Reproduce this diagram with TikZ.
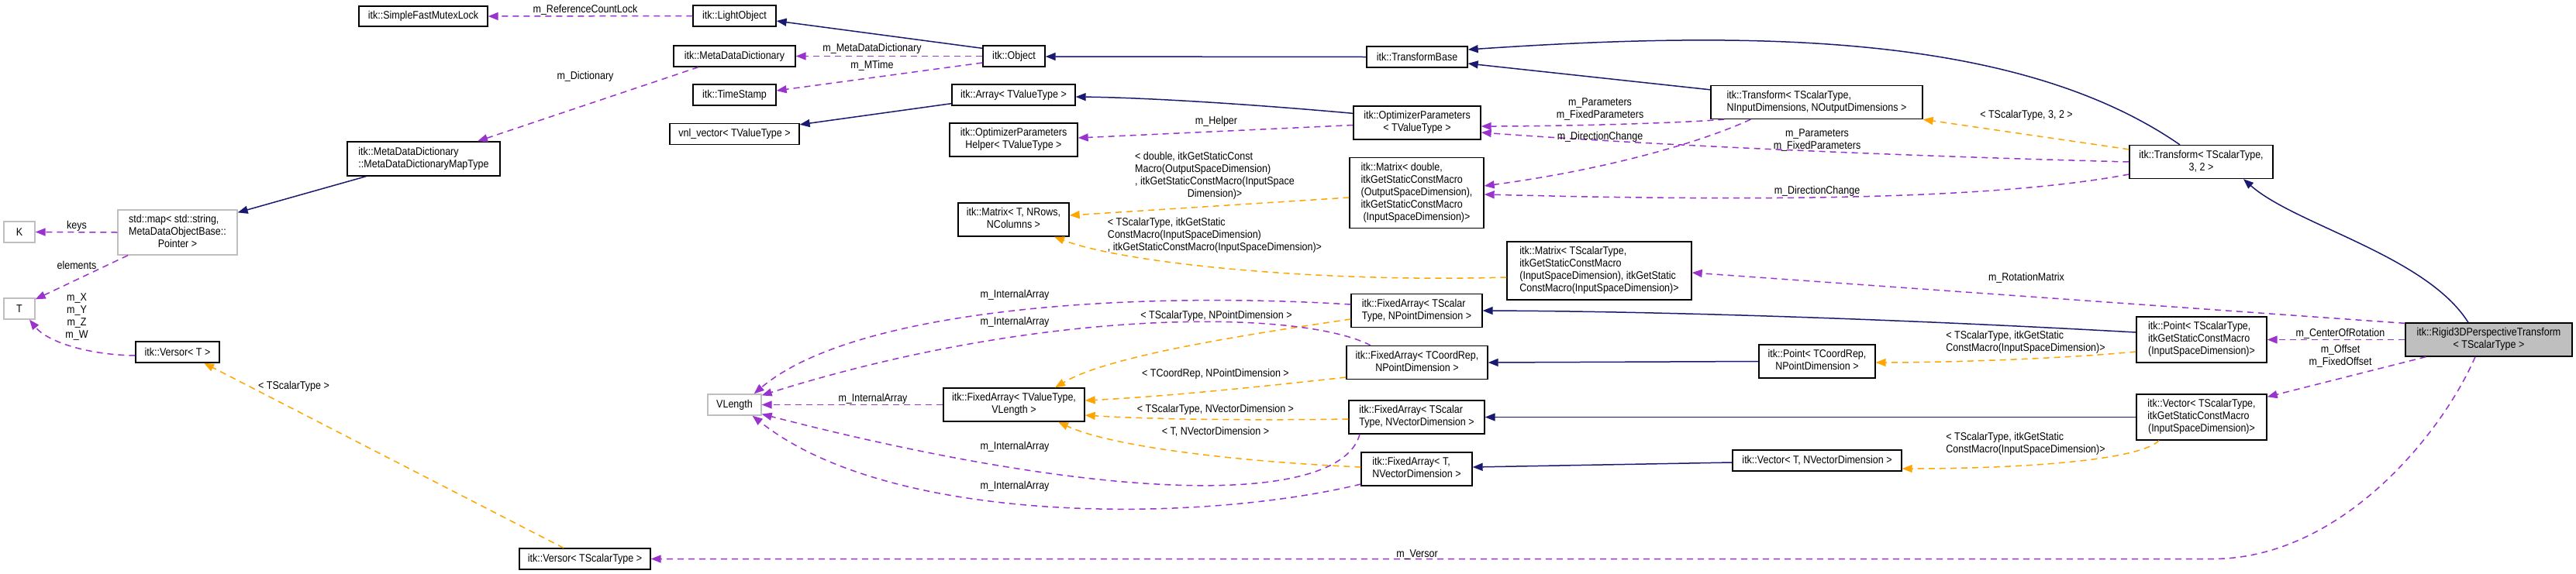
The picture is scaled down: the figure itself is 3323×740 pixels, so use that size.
\documentclass[tikz,border=0pt]{standalone}
\usepackage{fontspec}
\setmainfont{Liberation Sans}[FakeStretch=0.88]
\usetikzlibrary{arrows.meta}
\definecolor{navy}{RGB}{25,25,112}
\definecolor{purp}{RGB}{154,50,205}
\definecolor{orng}{RGB}{255,165,0}
\definecolor{gbd}{RGB}{191,191,191}
\newcommand{\tbl}[1]{\begin{tabular}{@{}l@{}}#1\end{tabular}}
\newcommand{\lastln}[1]{\multicolumn{1}{@{}c@{}}{#1}}
\begin{document}
\begin{tikzpicture}[x=1pt,y=-1pt,
  font=\fontsize{14.2}{16}\selectfont,
  box/.style={draw=black, line width=1.3pt, fill=white, inner sep=0pt, align=center},
  gbox/.style={box, draw=gbd},
  hbox/.style={box, fill=gbd},
  lbl/.style={inner sep=0pt, align=center},
  tip/.style={-{Triangle[length=13pt,width=10pt]}},
  inh/.style={tip, draw=navy, line width=1.5pt},
  tmpl/.style={tip, draw=orng, line width=1.5pt, dash pattern=on 8pt off 6pt},
  use/.style={tip, draw=purp, line width=1.5pt, dash pattern=on 8pt off 6pt}]
\useasboundingbox (0,0) rectangle (3323,740);

% ---------- nodes ----------
\node[box, minimum width=166pt, minimum height=26pt] (mutex) at (546,21) {itk::SimpleFastMutexLock};
\node[box, minimum width=107pt, minimum height=27pt] (light) at (947.5,20.5) {itk::LightObject};
\node[box, minimum width=157pt, minimum height=27pt] (mdd) at (947.5,72.5) {itk::MetaDataDictionary};
\node[box, minimum width=80pt, minimum height=27pt] (obj) at (1308,72.5) {itk::Object};
\node[box, minimum width=107pt, minimum height=27pt] (ts) at (947.5,122.5) {itk::TimeStamp};
\node[box, minimum width=159pt, minimum height=27pt] (arr) at (1307.5,122.5) {itk::Array< TValueType >};
\node[box, minimum width=167pt, minimum height=27pt] (vnl) at (947.5,173) {vnl\_vector< TValueType >};
\node[box, minimum width=165pt, minimum height=43pt] (opthelp) at (1307.5,180.5) {\tbl{itk::OptimizerParameters\\\lastln{Helper< TValueType >}}};
\node[box, minimum width=197pt, minimum height=44pt] (maptype) at (546.5,205) {\tbl{itk::MetaDataDictionary\\\lastln{::MetaDataDictionaryMapType}}};
\node[gbox, minimum width=154pt, minimum height=58pt] (stdmap) at (229,300) {\tbl{std::map< std::string,\\MetaDataObjectBase::\\\lastln{Pointer >}}};
\node[gbox, minimum width=40pt, minimum height=27pt] (K) at (25,299.5) {K};
\node[gbox, minimum width=40pt, minimum height=27pt] (T) at (25,398.5) {T};
\node[box, minimum width=108pt, minimum height=27pt] (versorT) at (229,454.5) {itk::Versor< T >};
\node[gbox, minimum width=69pt, minimum height=27pt] (vlength) at (947.5,522.5) {VLength};
\node[box, minimum width=169pt, minimum height=27pt] (versorS) at (754.5,721.5) {itk::Versor< TScalarType >};
\node[box, minimum width=130pt, minimum height=27pt] (tbase) at (1828,73.5) {itk::TransformBase};
\node[box, minimum width=164pt, minimum height=43pt] (optp) at (1828,158.5) {\tbl{itk::OptimizerParameters\\\lastln{< TValueType >}}};
\node[box, minimum width=273pt, minimum height=43pt] (transN) at (2343.5,132) {\tbl{itk::Transform< TScalarType,\\\lastln{NInputDimensions, NOutputDimensions >}}};
\node[box, minimum width=173pt, minimum height=91pt] (matD) at (1827.5,249) {\tbl{itk::Matrix< double,\\itkGetStaticConstMacro\\(OutputSpaceDimension),\\itkGetStaticConstMacro\\\lastln{(InputSpaceDimension)>}}};
\node[box, minimum width=143pt, minimum height=43pt] (matT) at (1307.5,283.5) {\tbl{itk::Matrix< T, NRows,\\\lastln{NColumns >}}};
\node[box, minimum width=238pt, minimum height=75pt] (matS) at (2063,349.5) {\tbl{itk::Matrix< TScalarType,\\itkGetStaticConstMacro\\(InputSpaceDimension), itkGetStatic\\\lastln{ConstMacro(InputSpaceDimension)>}}};
\node[box, minimum width=169pt, minimum height=43pt] (faSP) at (1827.5,401) {\tbl{itk::FixedArray< TScalar\\\lastln{Type, NPointDimension >}}};
\node[box, minimum width=182pt, minimum height=43pt] (faCP) at (1828,468) {\tbl{itk::FixedArray< TCoordRep,\\\lastln{NPointDimension >}}};
\node[box, minimum width=182pt, minimum height=43pt] (faV) at (1308,522.5) {\tbl{itk::FixedArray< TValueType,\\\lastln{VLength >}}};
\node[box, minimum width=175pt, minimum height=43pt] (faSV) at (1827.5,538.5) {\tbl{itk::FixedArray< TScalar\\\lastln{Type, NVectorDimension >}}};
\node[box, minimum width=143pt, minimum height=43pt] (faTV) at (1827.5,605.5) {\tbl{itk::FixedArray< T,\\\lastln{NVectorDimension >}}};
\node[box, minimum width=185pt, minimum height=43pt] (trans32) at (2839.5,209) {\tbl{itk::Transform< TScalarType,\\\lastln{3, 2 >}}};
\node[box, minimum width=168pt, minimum height=59pt] (ptS) at (2840,438.5) {\tbl{itk::Point< TScalarType,\\itkGetStaticConstMacro\\\lastln{(InputSpaceDimension)>}}};
\node[box, minimum width=150pt, minimum height=43pt] (ptC) at (2344,466.5) {\tbl{itk::Point< TCoordRep,\\\lastln{NPointDimension >}}};
\node[box, minimum width=168pt, minimum height=59pt] (vecS) at (2840,538.5) {\tbl{itk::Vector< TScalarType,\\itkGetStaticConstMacro\\\lastln{(InputSpaceDimension)>}}};
\node[box, minimum width=218pt, minimum height=27pt] (vecT) at (2344,594.5) {itk::Vector< T, NVectorDimension >};
\node[hbox, minimum width=215pt, minimum height=43pt] (rigid) at (3210.5,438.5) {\tbl{itk::Rigid3DPerspectiveTransform\\\lastln{< TScalarType >}}};

% ---------- inheritance ----------
\draw[inh] ([yshift=-4pt]obj.north west) -- ([yshift=-6.5pt]light.east);
\draw[inh] (tbase.west) -- ([yshift=-0.5pt]obj.east);
\draw[inh] ([yshift=-6pt]transN.north west) -- ([yshift=-8.5pt]tbase.east);
\draw[inh] ([xshift=-27.5pt]trans32.north) .. controls (2600,40) and (2250,40) .. ([yshift=9.5pt]tbase.east);
\draw[inh] ([xshift=-26.5pt]rigid.north) .. controls (3130,330) and (2960,290) .. ([xshift=54.5pt]trans32.south);
\draw[inh] ([yshift=-10pt]optp.north west) .. controls (1620,135) and (1480,126) .. ([yshift=-2.5pt]arr.east);
\draw[inh] ([yshift=3pt]arr.south west) -- ([yshift=-2pt]vnl.north east);
\draw[inh] ([xshift=25pt]maptype.south west) -- ([yshift=-4pt]stdmap.north east);
\draw[inh] ([yshift=9.5pt]ptS.west) .. controls (2450,412) and (2150,402) .. (faSP.east);
\draw[inh] (ptC.west) -- (faCP.east);
\draw[inh] (vecS.west) -- (faSV.east);
\draw[inh] ([yshift=-2.5pt]vecT.west) -- ([yshift=2.5pt]faTV.east);

% ---------- template instances ----------
\draw[tmpl] ([xshift=-27.5pt]versorS.north) -- ([xshift=34pt]versorT.south);
\draw[tmpl] ([yshift=-6pt]matD.west) -- ([yshift=5.5pt]matT.east);
\draw[tmpl] ([yshift=-8.5pt]matS.west) .. controls (1700,365) and (1450,340) .. ([xshift=52.5pt]matT.south);
\draw[tmpl] ([yshift=-11pt]faSP.west) .. controls (1550,440) and (1420,465) .. ([xshift=53pt]faV.north);
\draw[tmpl] ([yshift=-19pt]faCP.west) .. controls (1620,500) and (1500,512) .. ([yshift=5.5pt]faV.east);
\draw[tmpl] ([yshift=-2.5pt]faSV.west) .. controls (1600,543) and (1480,541) .. ([yshift=-13.5pt]faV.east);
\draw[tmpl] ([yshift=2.5pt]faTV.west) .. controls (1580,595) and (1430,575) .. ([xshift=57pt]faV.south);
\draw[tmpl] ([yshift=-6pt]trans32.north west) -- (transN.south east);
\draw[tmpl] ([yshift=-15.5pt]ptS.west) .. controls (2650,464) and (2500,468) .. ([yshift=-1.5pt]ptC.east);
\draw[tmpl] ([xshift=-55pt]vecS.south) .. controls (2760,595) and (2600,605) .. ([yshift=-10.5pt]vecT.east);

% ---------- usage ----------
\draw[use] (light.west) -- (mutex.east);
\draw[use] (obj.west) -- (mdd.east);
\draw[use] ([yshift=-8.5pt]obj.west) -- ([yshift=5.5pt]ts.east);
\draw[use] ([xshift=-46.5pt]mdd.south) -- ([xshift=69.5pt]maptype.north);
\draw[use] (stdmap.west) -- (K.east);
\draw[use] ([xshift=-64pt]stdmap.south) -- ([yshift=-2pt]T.north east);
\draw[use] ([yshift=-4.5pt]versorT.west) .. controls (110,458) and (60,440) .. ([xshift=13pt]T.south);
\draw[use] ([yshift=-3pt]optp.west) -- ([yshift=2.5pt]opthelp.east);
\draw[use] ([xshift=18pt]transN.south west) .. controls (2150,160) and (2000,163) .. ([yshift=-4.5pt]optp.east);
\draw[use] ([xshift=52pt]transN.south west) .. controls (2180,190) and (2050,222) .. ([yshift=9pt]matD.east);
\draw[use] (trans32.west) .. controls (2400,200) and (2100,185) .. ([yshift=-12.5pt]optp.east);
\draw[use] ([yshift=-16pt]trans32.west) .. controls (2550,262) and (2200,258) .. ([yshift=-2pt]matD.east);
\draw[use] ([yshift=-1pt]rigid.north west) -- ([yshift=-2.5pt]matS.east);
\draw[use] (rigid.west) -- (ptS.east);
\draw[use] ([xshift=27pt]rigid.south west) -- ([yshift=-4pt]vecS.north east);
\draw[use] ([xshift=-17.5pt]rigid.south) .. controls (3150,560) and (3020,721.5) .. (2854,721.5) -- (versorS.east);
\draw[use] ([yshift=8pt]faSP.west) .. controls (1450,375) and (1100,400) .. ([xshift=-10pt]vlength.north east);
\draw[use] ([xshift=-60pt]faCP.north) .. controls (1680,400) and (1350,395) .. ([yshift=-2pt]vlength.north east);
\draw[use] (faV.west) -- (vlength.east);
\draw[use] ([xshift=-73.5pt]faSV.south) .. controls (1730,650) and (1450,655) .. ([yshift=-12pt]vlength.east);
\draw[use] ([yshift=-19.5pt]faTV.west) .. controls (1550,675) and (1150,680) .. ([xshift=-12pt]vlength.south east);

% ---------- labels ----------
\node[lbl] (l1) at (755,13) {m\_ReferenceCountLock};
\node[lbl] (l2) at (1125,63) {m\_MetaDataDictionary};
\node[lbl] (l3) at (1125,85) {m\_MTime};
\node[lbl] (l4) at (755,99) {m\_Dictionary};
\node[lbl] (l5) at (99,292) {keys};
\node[lbl] (l6) at (99,342) {elements};
\node[lbl] (l7) at (99,409) {m\_X\\m\_Y\\m\_Z\\m\_W};
\node[lbl] (l8) at (379,499) {< TScalarType >};
\node[lbl] (l9) at (1569,157) {m\_Helper};
\node[lbl] (l10) at (1567,227) {\tbl{< double, itkGetStaticConst\\Macro(OutputSpaceDimension)\\, itkGetStaticConstMacro(InputSpace\\\lastln{Dimension)>}}};
\node[lbl] (l11) at (1567,304) {\tbl{< TScalarType, itkGetStatic\\ConstMacro(InputSpaceDimension)\\\lastln{, itkGetStaticConstMacro(InputSpaceDimension)>}}};
\node[lbl] (l12) at (1309,381) {m\_InternalArray};
\node[lbl] (l13) at (1309,416) {m\_InternalArray};
\node[lbl] (l14) at (1569,408) {< TScalarType, NPointDimension >};
\node[lbl] (l15) at (1126,515) {m\_InternalArray};
\node[lbl] (l16) at (1568,483) {< TCoordRep, NPointDimension >};
\node[lbl] (l17) at (1568,529) {< TScalarType, NVectorDimension >};
\node[lbl] (l18) at (1568,557) {< T, NVectorDimension >};
\node[lbl] (l19) at (1309,577) {m\_InternalArray};
\node[lbl] (l20) at (1309,628) {m\_InternalArray};
\node[lbl] (l21) at (1828,716) {m\_Versor};
\node[lbl] (l22) at (2064,141) {m\_Parameters\\m\_FixedParameters};
\node[lbl] (l23) at (2064,177) {m\_DirectionChange};
\node[lbl] (l24) at (2344,181) {m\_Parameters\\m\_FixedParameters};
\node[lbl] (l25) at (2344,247) {m\_DirectionChange};
\node[lbl] (l26) at (2614,149) {< TScalarType, 3, 2 >};
\node[lbl] (l27) at (2614,359) {m\_RotationMatrix};
\node[lbl] (l28) at (3019,431) {m\_CenterOfRotation};
\node[lbl] (l29) at (3019,460) {m\_Offset\\m\_FixedOffset};
\node[lbl] (l30) at (2613,442) {\tbl{< TScalarType, itkGetStatic\\\lastln{ConstMacro(InputSpaceDimension)>}}};
\node[lbl] (l31) at (2613,573) {\tbl{< TScalarType, itkGetStatic\\\lastln{ConstMacro(InputSpaceDimension)>}}};
\end{tikzpicture}
\end{document}
